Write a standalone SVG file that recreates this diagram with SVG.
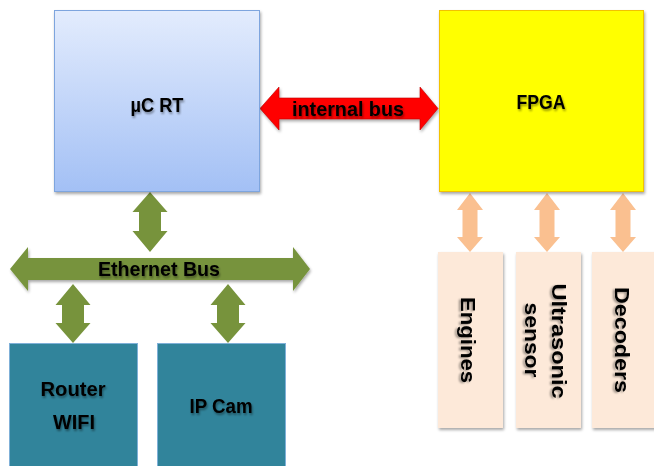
<svg xmlns="http://www.w3.org/2000/svg" width="654" height="466" viewBox="0 0 654 466">
<defs>
<linearGradient id="gBlue" x1="0" y1="0" x2="0" y2="1">
<stop offset="0" stop-color="#e3ecfd"/>
<stop offset="1" stop-color="#a3c0f5"/>
</linearGradient>
<filter id="sh" x="-10%" y="-10%" width="130%" height="130%">
<feGaussianBlur in="SourceAlpha" stdDeviation="1.5"/>
<feOffset dx="1" dy="2" result="b"/>
<feComponentTransfer><feFuncA type="linear" slope="0.35"/></feComponentTransfer>
<feMerge><feMergeNode/><feMergeNode in="SourceGraphic"/></feMerge>
</filter>
<filter id="tsh" x="-10%" y="-20%" width="130%" height="150%">
<feGaussianBlur in="SourceAlpha" stdDeviation="1"/>
<feOffset dx="1" dy="1.5" result="b"/>
<feComponentTransfer><feFuncA type="linear" slope="0.4"/></feComponentTransfer>
<feMerge><feMergeNode/><feMergeNode in="SourceGraphic"/></feMerge>
</filter>
</defs>
<style>
.lbl{font-family:"Liberation Sans",Arial,sans-serif;font-weight:bold;font-size:21px;fill:#000;text-anchor:middle;filter:url(#tsh)}
.green{fill:#77933c}
.orange{fill:#fac090}
.teal{fill:#31849b;stroke:#7fb0d8;stroke-width:1}
.peach{fill:#fde9d9}
</style>
<rect width="654" height="466" fill="#ffffff"/>

<g id="connectors">
<polygon id="internal-bus" points="260,108.5 279,87 279,98 420,98 420,87 438,108.5 420,130 420,119 279,119 279,130" fill="#ff0000" stroke="#c00000" stroke-width="0.6" filter="url(#sh)"/>
<polygon id="ethernet-bus" class="green" points="10,269 28,247 28,258 293,258 293,247 310,269 293,291 293,280 28,280 28,291" filter="url(#sh)"/>
<polygon class="green" points="150,192 167.5,212 161,212 161,231 167.5,231 150,252 132.5,231 139,231 139,212 132.5,212"/>
<polygon class="green" points="73,284 90.5,305 84,305 84,323 90.5,323 73,343 55.5,323 62,323 62,305 55.5,305"/>
<polygon class="green" points="228,284 245.5,305 239,305 239,323 245.5,323 228,343 210.5,323 217,323 217,305 210.5,305"/>
<polygon class="orange" points="470,193 483,210 477.5,210 477.5,237 483,237 470,252 457,237 462.5,237 462.5,210 457,210"/>
<polygon class="orange" points="547,193 560,210 554.5,210 554.5,237 560,237 547,252 534,237 539.5,237 539.5,210 534,210"/>
<polygon class="orange" points="623,193 636,210 630.5,210 630.5,237 636,237 623,252 610,237 615.5,237 615.5,210 610,210"/>
<text class="lbl" x="348" y="116" textLength="112" lengthAdjust="spacingAndGlyphs">internal bus</text>
<text class="lbl" x="159" y="276" textLength="122" lengthAdjust="spacingAndGlyphs">Ethernet Bus</text>
</g>

<g id="uc-rt">
<rect x="54.5" y="10.5" width="205" height="181" fill="url(#gBlue)" stroke="#7ea5de" stroke-width="1" filter="url(#sh)"/>
<text class="lbl" x="157" y="112" textLength="53" lengthAdjust="spacingAndGlyphs">µC RT</text>
</g>

<g id="fpga">
<rect x="439.5" y="10.5" width="204" height="181" fill="#ffff00" stroke="#f2c200" stroke-width="1" filter="url(#sh)"/>
<text class="lbl" x="541" y="109" textLength="49" lengthAdjust="spacingAndGlyphs">FPGA</text>
</g>

<g id="router-wifi">
<rect class="teal" x="9.5" y="343.5" width="128" height="124"/>
<text class="lbl" x="73" y="396" textLength="65" lengthAdjust="spacingAndGlyphs">Router</text>
<text class="lbl" x="74" y="429" textLength="42" lengthAdjust="spacingAndGlyphs">WIFI</text>
</g>

<g id="ip-cam">
<rect class="teal" x="157.5" y="343.5" width="128" height="124"/>
<text class="lbl" x="221" y="413" textLength="63" lengthAdjust="spacingAndGlyphs">IP Cam</text>
</g>

<g id="engines">
<rect class="peach" x="438" y="252" width="65" height="176" filter="url(#sh)"/>
<text class="lbl" transform="translate(461,340) rotate(90)" textLength="86" lengthAdjust="spacingAndGlyphs">Engines</text>
</g>

<g id="ultrasonic-sensor">
<rect class="peach" x="516" y="252" width="65" height="176" filter="url(#sh)"/>
<text class="lbl" transform="translate(552,341) rotate(90)" textLength="115" lengthAdjust="spacingAndGlyphs">Ultrasonic</text>
<text class="lbl" transform="translate(525,340) rotate(90)" textLength="75" lengthAdjust="spacingAndGlyphs">sensor</text>
</g>

<g id="decoders">
<rect class="peach" x="592" y="252" width="66" height="176" filter="url(#sh)"/>
<text class="lbl" transform="translate(615,340) rotate(90)" textLength="106" lengthAdjust="spacingAndGlyphs">Decoders</text>
</g>
</svg>
